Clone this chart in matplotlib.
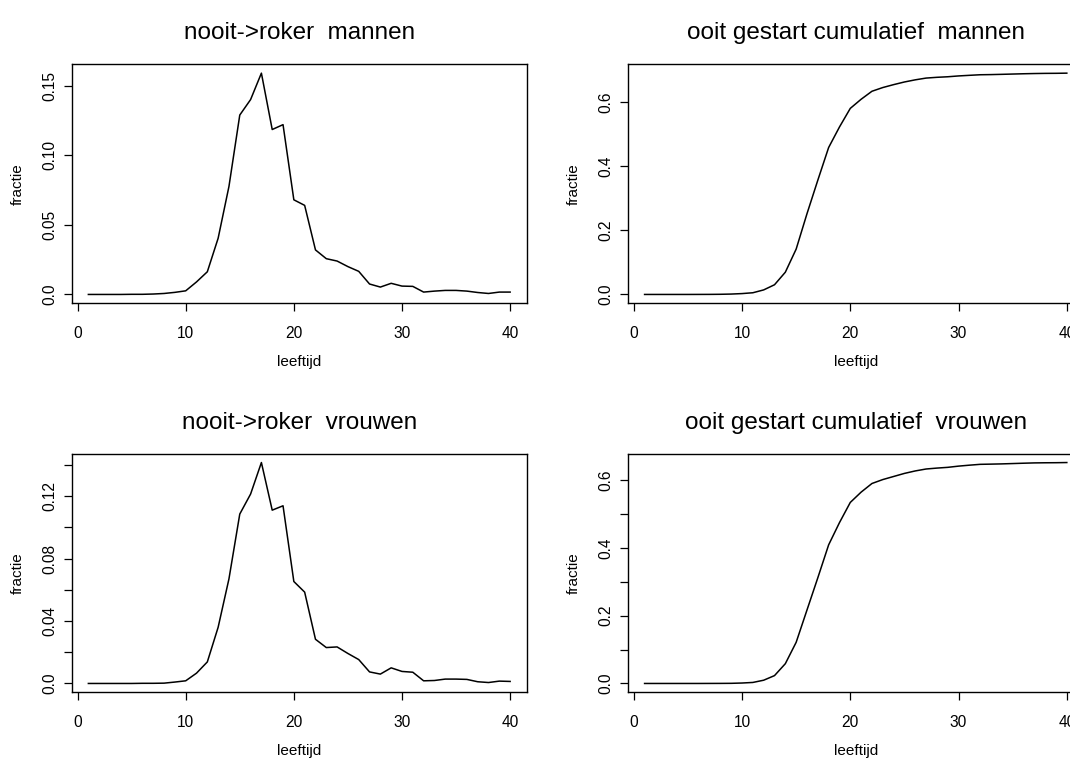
import numpy as np
import matplotlib.pyplot as plt

plt.rcParams['font.family'] = ['Liberation Sans', 'DejaVu Sans']

leeftijd = np.arange(1, 41)

# fraction of never-smokers that starts smoking at each age
start_mannen = [0, 0, 0, 0, 0.0001, 0.0001, 0.0003, 0.0007, 0.0015, 0.0026,
                0.0090, 0.0163, 0.0404, 0.0776, 0.1289, 0.1400, 0.1590, 0.1185, 0.1220, 0.0680,
                0.0640, 0.0320, 0.0257, 0.0240, 0.0200, 0.0166, 0.0075, 0.0053, 0.0080, 0.0060,
                0.0058, 0.0017, 0.0024, 0.0029, 0.0029, 0.0024, 0.0014, 0.0007, 0.0017, 0.0017]
start_vrouwen = [0, 0, 0, 0, 0, 0.0001, 0.0001, 0.0002, 0.0009, 0.0017,
                 0.0066, 0.0138, 0.0360, 0.0670, 0.1085, 0.1213, 0.1415, 0.1110, 0.1138, 0.0653,
                 0.0585, 0.0283, 0.0230, 0.0234, 0.0192, 0.0153, 0.0074, 0.0060, 0.0100, 0.0077,
                 0.0072, 0.0017, 0.0019, 0.0028, 0.0028, 0.0026, 0.0011, 0.0006, 0.0015, 0.0013]

# ever started, cumulative
cum_mannen = [0, 0, 0, 0, 0, 0.0001, 0.0002, 0.0005, 0.0012, 0.0027,
              0.0053, 0.0142, 0.0303, 0.0695, 0.1417, 0.2523, 0.3570, 0.4592, 0.5233, 0.5815,
              0.6100, 0.6350, 0.6466, 0.6557, 0.6640, 0.6707, 0.6762, 0.6786, 0.6803, 0.6829,
              0.6848, 0.6866, 0.6871, 0.6879, 0.6888, 0.6897, 0.6904, 0.6909, 0.6911, 0.6916]
cum_vrouwen = [0, 0, 0, 0, 0, 0, 0.0001, 0.0002, 0.0004, 0.0013,
               0.0030, 0.0096, 0.0232, 0.0584, 0.1215, 0.2169, 0.3120, 0.4093, 0.4749, 0.5346,
               0.5650, 0.5905, 0.6021, 0.6112, 0.6203, 0.6276, 0.6333, 0.6360, 0.6382, 0.6418,
               0.6446, 0.6471, 0.6477, 0.6484, 0.6494, 0.6504, 0.6513, 0.6517, 0.6519, 0.6524]

W, H = 1070, 760
fig = plt.figure(figsize=(W / 100, H / 100), dpi=100)


def panel(x0, y0, w, h, x, y, title, yticks, ylabels):
    ax = fig.add_axes([x0 / W, 1 - (y0 + h) / H, w / W, h / H])
    ax.plot(x, y, color='black', lw=1.1)
    # R style 4% padding around the data range
    r = max(y)
    ax.set_xlim(1 - 0.04 * 39, 40 + 0.04 * 39)
    ax.set_ylim(-0.04 * r, 1.04 * r)
    ax.set_xticks([0, 10, 20, 30, 40])
    ax.set_xticklabels(['0', '10', '20', '30', '40'])
    ax.set_yticks(yticks)
    ax.set_yticklabels(ylabels, rotation=90, va='center')
    ax.tick_params(axis='x', direction='out', length=6, width=0.9, pad=10, labelsize=11.2)
    ax.tick_params(axis='y', direction='out', length=6, width=0.9, pad=4, labelsize=11.2)
    for s in ax.spines.values():
        s.set_linewidth(1.0)
        s.set_color('black')
    ax.set_xlabel('leeftijd', fontsize=11, va='center')
    ax.xaxis.set_label_coords(0.5, -(59 / h))
    ax.set_ylabel('fractie', fontsize=11, va='center')
    ax.yaxis.set_label_coords(-(54 / w), 0.5)
    ax.text(0.5, 1 + 31 / h, title, transform=ax.transAxes, ha='center', va='center',
            fontsize=17.5)
    return ax


panel(71.5, 64.3, 455.5, 239, leeftijd, start_mannen, 'nooit->roker  mannen',
      [0, 0.05, 0.10, 0.15], ['0.0', '0.05', '0.10', '0.15'])
panel(627.7, 64.3, 456, 239, leeftijd, cum_mannen, 'ooit gestart cumulatief  mannen',
      [0, 0.2, 0.4, 0.6], ['0.0', '0.2', '0.4', '0.6'])
panel(71.5, 453.7, 455.5, 238.6, leeftijd, start_vrouwen, 'nooit->roker  vrouwen',
      np.arange(0, 0.141, 0.02), ['0.0', '', '0.04', '', '0.08', '', '0.12', ''])
panel(627.7, 453.7, 456, 238.6, leeftijd, cum_vrouwen, 'ooit gestart cumulatief  vrouwen',
      np.arange(0, 0.61, 0.1), ['0.0', '', '0.2', '', '0.4', '', '0.6'])

fig.savefig('out.png', dpi=100)
